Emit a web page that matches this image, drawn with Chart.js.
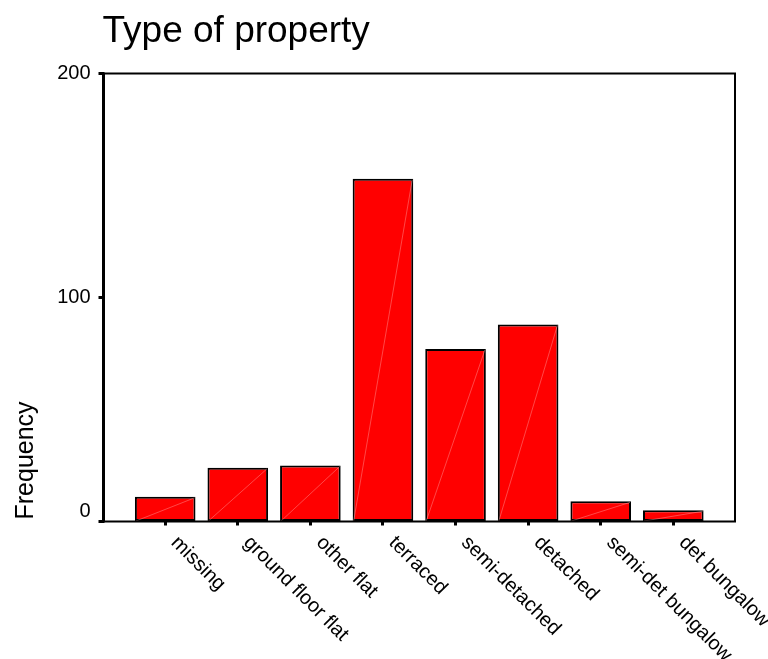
<!DOCTYPE html>
<html>
<head>
<meta charset="utf-8">
<title>Type of property</title>
<script src="https://cdn.jsdelivr.net/npm/chart.js@4/dist/chart.umd.min.js"></script>
<style>
  html, body { margin: 0; padding: 0; background: #fff; }
  canvas { display: block; }
</style>
</head>
<body>
<canvas id="chart" width="768" height="659"></canvas>
<script>
// Data
const categories = ['missing', 'ground floor flat', 'other flat', 'terraced', 'semi-detached', 'detached', 'semi-det bungalow', 'det bungalow'];
const frequencies = [11, 24, 25, 153, 77, 88, 9, 5];
const yTicks = [0, 100, 200];

const chartTitle = 'Type of property';
const yAxisTitle = 'Frequency';
const FONT = '"Liberation Sans", Arial, Helvetica, sans-serif';

// Box, text and the light seam across each bar
const spssLook = {
    id: 'spssLook',
    afterDatasetsDraw(chart) {
        const ctx = chart.ctx;
        const meta = chart.getDatasetMeta(0);
        ctx.save();
        ctx.strokeStyle = 'rgba(255, 170, 170, 0.7)';
        ctx.lineWidth = 0.6;
        meta.data.forEach(bar => {
            const { x, y, base, width } = bar.getProps(['x', 'y', 'base', 'width'], true);
            ctx.beginPath();
            ctx.moveTo(x - width / 2 + 1, base);
            ctx.lineTo(x + width / 2 - 1, y + 1);
            ctx.stroke();
        });
        ctx.restore();
    },
    afterDraw(chart) {
        const { ctx, chartArea: area, scales } = chart;
        ctx.save();

        // frame round the plot
        ctx.strokeStyle = '#000';
        ctx.lineWidth = 2;
        ctx.strokeRect(area.left, area.top, area.right - area.left, area.bottom - area.top);
        ctx.lineWidth = 3;
        ctx.beginPath();
        ctx.moveTo(area.left, area.top - 1);
        ctx.lineTo(area.left, area.bottom + 1);
        ctx.stroke();

        ctx.fillStyle = '#000';

        // title
        ctx.font = '37px ' + FONT;
        ctx.textAlign = 'left';
        ctx.textBaseline = 'alphabetic';
        ctx.fillText(chartTitle, area.left - 1, 42);

        // y tick labels, zero sits a bit above its tick
        ctx.font = '20px ' + FONT;
        ctx.textAlign = 'right';
        ctx.textBaseline = 'middle';
        yTicks.forEach(v => {
            const py = scales.y.getPixelForValue(v) - (v === 0 ? 10 : 0);
            ctx.fillText(String(v), area.left - 13, py);
        });

        // y axis title
        ctx.save();
        ctx.font = '25px ' + FONT;
        ctx.translate(33, area.bottom - 2);
        ctx.rotate(-Math.PI / 2);
        ctx.textAlign = 'left';
        ctx.textBaseline = 'alphabetic';
        ctx.fillText(yAxisTitle, 0, 0);
        ctx.restore();

        // category labels slanting down to the right
        ctx.font = '20px ' + FONT;
        ctx.textAlign = 'left';
        ctx.textBaseline = 'top';
        categories.forEach((name, i) => {
            const px = scales.x.getPixelForValue(i);
            ctx.save();
            ctx.translate(px + 16, area.bottom + 11);
            ctx.rotate(Math.PI / 4);
            ctx.fillText(name, 0, 0);
            ctx.restore();
        });

        ctx.restore();
    }
};

new Chart(document.getElementById('chart'), {
    type: 'bar',
    data: {
        datasets: [{
            data: frequencies.map((v, i) => ({ x: i, y: v })),
            backgroundColor: '#ff0000',
            borderColor: '#000',
            borderWidth: 2,
            borderSkipped: false,
            categoryPercentage: 1,
            barPercentage: 0.835
        }]
    },
    options: {
        responsive: false,
        animation: false,
        layout: { padding: { top: 73.5, right: 33, bottom: 137.5, left: 0 } },
        plugins: {
            legend: { display: false },
            title: { display: false },
            tooltip: { enabled: false }
        },
        scales: {
            x: {
                type: 'linear',
                min: -0.85,
                max: 7.85,
                offset: false,
                ticks: { display: false, stepSize: 1, includeBounds: false },
                grid: { offset: false, drawOnChartArea: false, drawTicks: true, tickLength: 4, tickWidth: 3, tickColor: '#000' },
                border: { display: false },
                afterFit: s => { s.height = 0; }
            },
            y: {
                min: 0,
                max: 200,
                ticks: { display: false, stepSize: 100 },
                grid: { drawOnChartArea: false, drawTicks: true, tickLength: 5, tickWidth: 3, tickColor: '#000' },
                border: { display: false },
                afterFit: s => { s.width = 103.5; }
            }
        }
    },
    plugins: [spssLook]
});
</script>
</body>
</html>
